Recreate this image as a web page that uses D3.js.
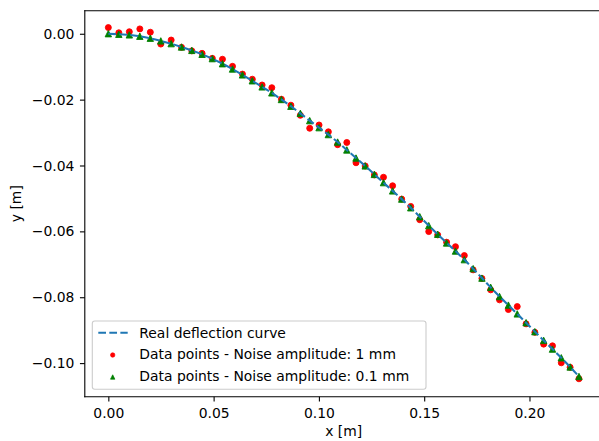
<!DOCTYPE html>
<html><head><meta charset="utf-8">
<script src="https://cdn.jsdelivr.net/npm/d3@7"></script>
<style>
body{margin:0;background:#fff}
svg{display:block}
text{font-family:"DejaVu Sans",sans-serif;font-size:13.9px;fill:#000}
</style>
</head><body>
<svg id="chart" width="599" height="441"></svg>
<script>
const xValues = [0, 0.00499, 0.00997, 0.01496, 0.01994, 0.02491, 0.02984, 0.03476, 0.03965, 0.04452, 0.04938, 0.05420, 0.05897, 0.06370, 0.06838, 0.07303, 0.07764, 0.08219, 0.08670, 0.09119, 0.09563, 0.10007, 0.10449, 0.10888, 0.11325, 0.11762, 0.12198, 0.12633, 0.13067, 0.13500, 0.13932, 0.14361, 0.14789, 0.15216, 0.15641, 0.16064, 0.16486, 0.16906, 0.17324, 0.17742, 0.18158, 0.18578, 0.18998, 0.19419, 0.19839, 0.20256, 0.20674, 0.21092, 0.21510, 0.21930, 0.22350];
const realY = [0, -0.00015, -0.00036, -0.00073, -0.00137, -0.00215, -0.00301, -0.00400, -0.00507, -0.00622, -0.00756, -0.00908, -0.01071, -0.01247, -0.01429, -0.01611, -0.01796, -0.01994, -0.02200, -0.02418, -0.02637, -0.02849, -0.03062, -0.03286, -0.03529, -0.03771, -0.04014, -0.04269, -0.04521, -0.04770, -0.05021, -0.05282, -0.05555, -0.05825, -0.06089, -0.06350, -0.06599, -0.06857, -0.07133, -0.07418, -0.07700, -0.07976, -0.08240, -0.08504, -0.08774, -0.09044, -0.09311, -0.09572, -0.09839, -0.10116, -0.10407];
const noise1mmY = [0.00188, 0.00030, 0.00061, 0.00147, 0.00047, -0.00313, -0.00191, -0.00413, -0.00520, -0.00595, -0.00747, -0.00774, -0.00989, -0.01225, -0.01380, -0.01556, -0.01638, -0.01987, -0.02169, -0.02476, -0.02870, -0.02770, -0.02977, -0.03368, -0.03301, -0.03917, -0.04014, -0.04287, -0.04357, -0.04615, -0.05021, -0.05243, -0.05646, -0.06007, -0.06107, -0.06329, -0.06465, -0.06735, -0.07169, -0.07430, -0.07776, -0.08080, -0.08374, -0.08283, -0.08808, -0.09066, -0.09424, -0.09475, -0.09991, -0.10127, -0.10476];
const noise01mmY = [0.00002, -0.00016, -0.00034, -0.00075, -0.00135, -0.00217, -0.00300, -0.00402, -0.00505, -0.00624, -0.00755, -0.00910, -0.01070, -0.01249, -0.01428, -0.01613, -0.01795, -0.01996, -0.02201, -0.02416, -0.02638, -0.02851, -0.03061, -0.03288, -0.03528, -0.03773, -0.04013, -0.04271, -0.04520, -0.04772, -0.05020, -0.05284, -0.05554, -0.05827, -0.06088, -0.06352, -0.06598, -0.06859, -0.07132, -0.07420, -0.07699, -0.07978, -0.08239, -0.08506, -0.08773, -0.09046, -0.09310, -0.09574, -0.09838, -0.10118, -0.10406];
const xTicks = [0, 0.05, 0.10, 0.15, 0.20];
const yTicks = [0, -0.02, -0.04, -0.06, -0.08, -0.10];
const legendLabels = ["Real deflection curve", "Data points - Noise amplitude: 1 mm", "Data points - Noise amplitude: 0.1 mm"];
const xLabel = "x [m]", yLabel = "y [m]";

const svg = d3.select("#chart");
svg.append("rect").attr("width", 599).attr("height", 441).attr("fill", "#fff");

const L = 84.8, R = 602.5, T = 10.7, B = 396.7;
const x = d3.scaleLinear().domain([-0.011175, 0.234675]).range([L, R]);
const y = d3.scaleLinear().domain([-0.1102, 0.0070]).range([B, T]);

const defs = svg.append("defs");
defs.append("clipPath").attr("id", "clip").append("rect")
  .attr("x", L).attr("y", T).attr("width", R - L).attr("height", B - T);

const plot = svg.append("g").attr("clip-path", "url(#clip)");

// red circles (1 mm noise)
plot.append("g").selectAll("circle").data(xValues).join("circle")
  .attr("cx", d => x(d)).attr("cy", (d, i) => y(noise1mmY[i]))
  .attr("r", 3.0).attr("fill", "#ff0000").attr("stroke", "#ff0000").attr("stroke-width", 0.9);

// green triangles (0.1 mm noise)
const tri = (s) => `M0,${-s}L${-s},${s}L${s},${s}Z`;
plot.append("g").selectAll("path").data(xValues).join("path")
  .attr("transform", (d, i) => `translate(${x(d)},${y(noise01mmY[i])})`)
  .attr("d", tri(3.2)).attr("fill", "#008000").attr("stroke", "#008000").attr("stroke-width", 0.9);

// real deflection curve
const line = d3.line().x(d => x(d[0])).y(d => y(d[1]));
plot.append("path").datum(xValues.map((d, i) => [d, realY[i]]))
  .attr("d", line).attr("fill", "none").attr("stroke", "#1f77b4")
  .attr("stroke-width", 2.08).attr("stroke-dasharray", "7.7,3.33");

// axes
const xAxis = d3.axisBottom(x).tickValues(xTicks).tickSize(4.86).tickPadding(4.86).tickFormat(d3.format(".2f"));
const gx = svg.append("g").attr("transform", `translate(0,${B})`).call(xAxis);
gx.select(".domain").remove();
gx.selectAll("line").attr("stroke", "#000").attr("stroke-width", 1.1);
gx.selectAll("text").attr("font-size", null).attr("fill", "#000").attr("dy", null).attr("y", 21.6);
gx.attr("font-size", null).attr("font-family", null);

const yAxis = d3.axisLeft(y).tickValues(yTicks).tickSize(4.86).tickPadding(5.6).tickFormat(d3.format(".2f"));
const gy = svg.append("g").attr("transform", `translate(${L},0)`).call(yAxis);
gy.select(".domain").remove();
gy.selectAll("line").attr("stroke", "#000").attr("stroke-width", 1.1);
gy.selectAll("text").attr("fill", "#000").attr("dy", "0.33em");
gy.attr("font-size", null).attr("font-family", null);

// spines
const sp = svg.append("g").attr("stroke", "#000").attr("stroke-width", 1.1).attr("stroke-linecap", "square");
sp.append("line").attr("x1", L).attr("x2", L).attr("y1", T).attr("y2", B);
sp.append("line").attr("x1", L).attr("x2", R).attr("y1", B).attr("y2", B);
sp.append("line").attr("x1", L).attr("x2", R).attr("y1", T).attr("y2", T);
sp.append("line").attr("x1", R).attr("x2", R).attr("y1", T).attr("y2", B);

// axis labels
svg.append("text").attr("x", (L + R) / 2).attr("y", 435.8).attr("text-anchor", "middle").text(xLabel);
svg.append("text").attr("transform", `translate(21.3,${(T + B) / 2}) rotate(-90)`).attr("text-anchor", "middle").text(yLabel);

// legend
const lg = svg.append("g");
lg.append("rect").attr("x", 92.3).attr("y", 321).attr("width", 333.7).attr("height", 68.3)
  .attr("rx", 2.5).attr("fill", "#fff").attr("fill-opacity", 0.8).attr("stroke", "#cccccc").attr("stroke-width", 1.1);
lg.append("line").attr("x1", 98.3).attr("x2", 127.7).attr("y1", 332.7).attr("y2", 332.7)
  .attr("stroke", "#1f77b4").attr("stroke-width", 2.08).attr("stroke-dasharray", "7.7,3.33");
lg.append("circle").attr("cx", 112.7).attr("cy", 355).attr("r", 2.2).attr("fill", "#ff0000").attr("stroke", "#ff0000").attr("stroke-width", 0.7);
lg.append("path").attr("transform", "translate(112.7,377)").attr("d", tri(2.2)).attr("fill", "#008000").attr("stroke", "#008000").attr("stroke-width", 0.7);
const baselines = [337.7, 359, 380.7];
lg.selectAll("text.lab").data(legendLabels).join("text").attr("class", "lab")
  .attr("x", 139.3).attr("y", (d, i) => baselines[i]).text(d => d);
</script>
</body></html>
